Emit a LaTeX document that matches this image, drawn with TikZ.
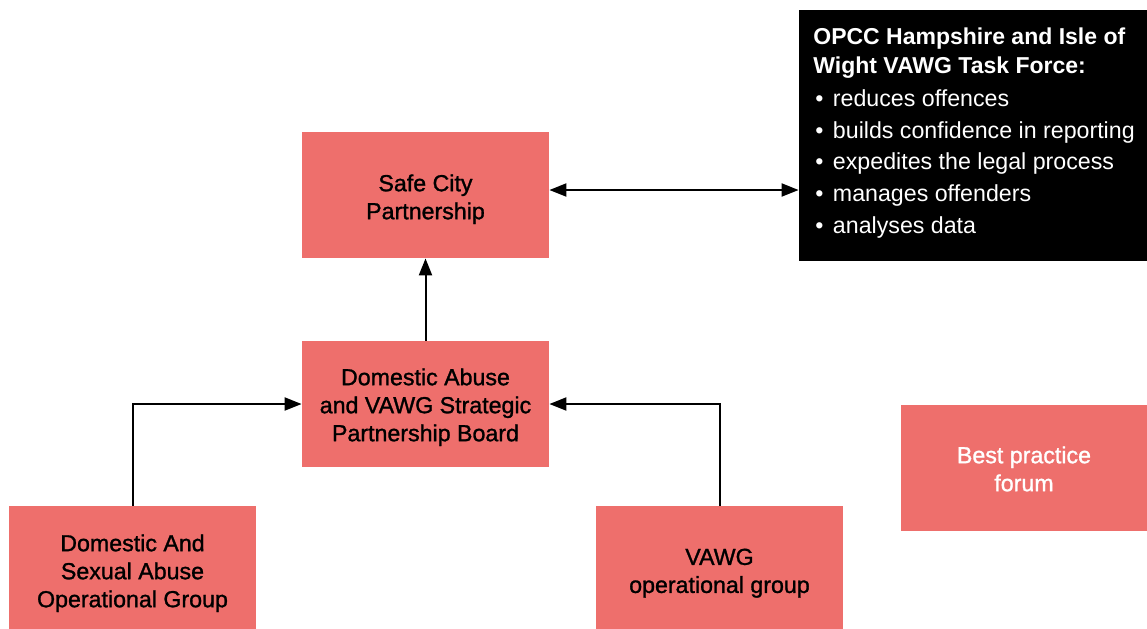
\documentclass[tikz,border=0pt]{standalone}
\usepackage{fontspec}
\setmainfont{Liberation Sans}
\newfontfamily\mediumfont{Liberation Sans}[FakeBold=1.2]
\usetikzlibrary{arrows.meta}
\definecolor{salmon}{RGB}{238,111,108}
\begin{document}
\begin{tikzpicture}[x=0.5pt,y=-0.5pt,
  box/.style={fill=salmon,draw=none,inner sep=0pt,minimum width=123.5pt,minimum height=63pt},
  boxtext/.style={inner sep=0pt,align=center,font=\mediumfont\fontsize{11.6}{14}\selectfont,
    execute at begin node=\strut,execute at end node=\strut},
  conn/.style={line width=1pt,-{Triangle[length=8.5pt,width=6.5pt]}},
  biconn/.style={line width=1pt,{Triangle[length=8.5pt,width=6.5pt]}-{Triangle[length=8.5pt,width=6.5pt]}},
  tline/.style={anchor=base west,inner sep=0pt,text=white,font=\fontsize{11.6}{14}\selectfont}]
\useasboundingbox (0,0) rectangle (1147,628);
\node[box] (safe) at (425.5,195) {};
\node[box] (board) at (425.5,404) {};
\node[box] (dasog) at (132.5,569) {};
\node[box] (vawg) at (719.5,569) {};
\node[box,minimum width=123pt] (best) at (1024,468) {};
\node[boxtext] (safeT) at ([yshift=-3pt]safe.center) {Safe City\\Partnership};
\node[boxtext] (boardT) at ([yshift=-2.5pt]board.center) {Domestic Abuse\\and VAWG Strategic\\Partnership Board};
\node[boxtext] (dasogT) at ([yshift=-3pt]dasog.center) {Domestic And\\Sexual Abuse\\Operational Group};
\node[boxtext] (vawgT) at ([yshift=-3pt]vawg.center) {VAWG\\operational group};
\node[boxtext,text=white] (bestT) at ([yshift=-2.5pt]best.center) {Best practice\\forum};
\node[fill=black,draw=none,inner sep=0pt,minimum width=174pt,minimum height=125.5pt] (task) at (973,135.5) {};
\node[tline,font=\bfseries\fontsize{11.5}{14}\selectfont] (h1) at (813,44) {OPCC Hampshire and Isle of};
\node[tline,font=\bfseries\fontsize{11.5}{14}\selectfont] (h2) at (813,73) {Wight VAWG Task Force:};
\node[tline] (b1) at (815,106) {•\hspace{1.5pt} reduces offences};
\node[tline] (b2) at (815,138) {•\hspace{1.5pt} builds confidence in reporting};
\node[tline] (b3) at (815,169) {•\hspace{1.5pt} expedites the legal process};
\node[tline] (b4) at (815,201) {•\hspace{1.5pt} manages offenders};
\node[tline] (b5) at (815,233) {•\hspace{1.5pt} analyses data};
\coordinate (c1) at ([yshift=2.5pt]safe.east);
\draw[biconn] (c1) -- (c1 -| task.west);
\draw[conn] (board.north) -- (safe.south);
\draw[conn] (dasog.north) |- (board.west);
\draw[conn] (vawg.north) |- (board.east);
\end{tikzpicture}
\end{document}
